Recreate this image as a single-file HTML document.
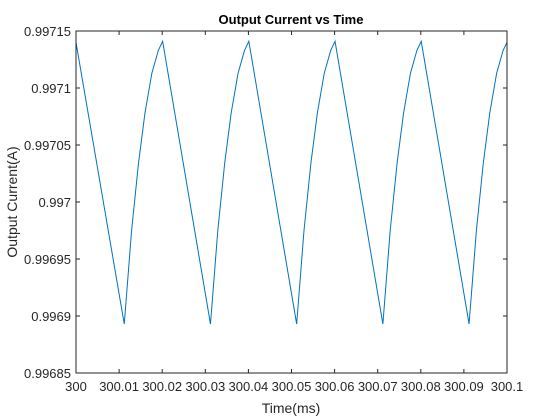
<!DOCTYPE html>
<html><head><meta charset="utf-8"><style>
body{margin:0;background:#fff;}
svg{display:block;font-family:"Liberation Sans",Arial,sans-serif;}
</style></head><body>
<svg id="chart" width="560" height="420" viewBox="0 0 560 420">
<rect x="0" y="0" width="560" height="420" fill="#fff"/>
<text x="291" y="24" text-anchor="middle" font-size="13" font-weight="bold" fill="#000">Output Current vs Time</text>
<text x="291" y="413" text-anchor="middle" font-size="14" fill="#262626">Time(ms)</text>
<text transform="translate(17,202) rotate(-90)" text-anchor="middle" font-size="14" fill="#262626">Output Current(A)</text>
<g id="axes"></g>
<path id="series" fill="none" stroke="#0072BD" stroke-width="1"/>
<rect x="76" y="31" width="431" height="342" fill="none" stroke="#262626" stroke-width="1"/>
</svg>
<script>
const xTicks = [300, 300.01, 300.02, 300.03, 300.04, 300.05, 300.06, 300.07, 300.08, 300.09, 300.1];
const xTickLabels = ["300","300.01","300.02","300.03","300.04","300.05","300.06","300.07","300.08","300.09","300.1"];
const yTicks = [0.99685, 0.9969, 0.99695, 0.997, 0.99705, 0.9971, 0.99715];
const yTickLabels = ["0.99685","0.9969","0.99695","0.997","0.99705","0.9971","0.99715"];
const timeMs = [300,
 300.0112,300.0129,300.0145,300.016,300.0176,300.0191,300.0201,
 300.0312,300.0329,300.0345,300.036,300.0376,300.0391,300.0401,
 300.0512,300.0529,300.0545,300.056,300.0576,300.0591,300.0601,
 300.0712,300.0729,300.0745,300.076,300.0776,300.0791,300.0801,
 300.0912,300.0929,300.0945,300.096,300.0976,300.0991,300.1];
const currentA = [0.99714,
 0.996893,0.996975,0.997034,0.997078,0.997113,0.997133,0.997141,
 0.996893,0.996975,0.997034,0.997078,0.997113,0.997133,0.997141,
 0.996893,0.996975,0.997034,0.997078,0.997113,0.997133,0.997141,
 0.996893,0.996975,0.997034,0.997078,0.997113,0.997133,0.997141,
 0.996893,0.996975,0.997034,0.997078,0.997113,0.997133,0.99714];

const L=76,R=507,T=31,B=373;
const xMin=300,xMax=300.1,yMin=0.99685,yMax=0.99715;
function xs(v){return L+(v-xMin)/(xMax-xMin)*(R-L);}
function ys(v){return B-(v-yMin)/(yMax-yMin)*(B-T);}
const NS="http://www.w3.org/2000/svg";
const axes=document.getElementById('axes');
function mk(tag,attrs){const e=document.createElementNS(NS,tag);for(const k in attrs)e.setAttribute(k,attrs[k]);axes.appendChild(e);return e;}
xTicks.forEach((v,i)=>{
 const x=xs(v);
 const t1=mk('line',{x1:x,x2:x,y1:B,y2:B-4,stroke:'#262626'});
 
 
 const t2=mk('line',{x1:x,x2:x,y1:T,y2:T+4,stroke:'#262626'});
 
 
 const tx=mk('text',{x:x,y:B+18,'text-anchor':'middle','font-size':'13',fill:'#262626'});
 tx.textContent=xTickLabels[i];
 
 
});
yTicks.forEach((v,i)=>{
 const y=ys(v);
 const t1=mk('line',{x1:L,x2:L+4,y1:y,y2:y,stroke:'#262626'});
 
 
 const t2=mk('line',{x1:R,x2:R-4,y1:y,y2:y,stroke:'#262626'});
 
 
 const tx=mk('text',{x:L-5,y:y+5,'text-anchor':'end','font-size':'13',fill:'#262626'});
 tx.textContent=yTickLabels[i];
 
 
});
let d='';
timeMs.forEach((t,i)=>{d+=(i?'L':'M')+xs(t).toFixed(2)+' '+ys(currentA[i]).toFixed(2);});
document.getElementById('series').setAttribute('d',d);
</script>
</body></html>
